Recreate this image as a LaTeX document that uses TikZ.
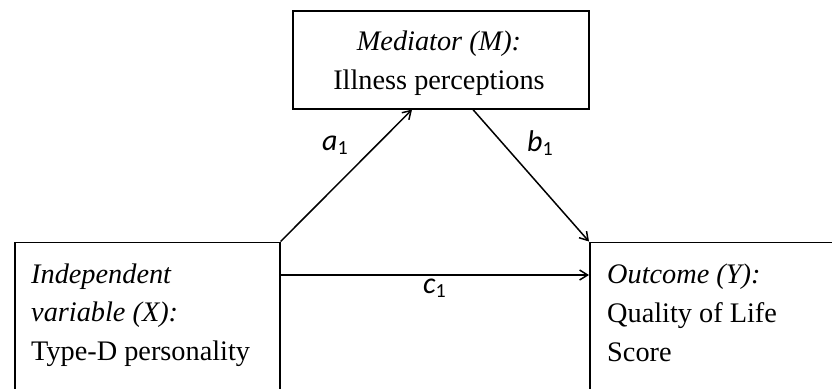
\documentclass[tikz,border=0pt]{standalone}
\usepackage{fontspec}
\setmainfont{Liberation Serif}
\newfontfamily\labfont{Carlito}
\usetikzlibrary{arrows.meta,calc}
\tikzset{
  box/.style={draw, line width=1.6bp, rectangle, inner sep=0pt, anchor=north west},
  txt/.style={inner sep=0pt, anchor=base west, font=\fontsize{28.3bp}{38bp}\selectfont},
  ctxt/.style={inner sep=0pt, anchor=base, font=\fontsize{28.3bp}{38bp}\selectfont},
  lab/.style={inner sep=0pt, anchor=base west, font=\labfont\itshape\fontsize{30bp}{30bp}\selectfont},
  arr/.style={line width=1.5bp, -{Straight Barb[length=8bp,width=10bp,line width=1.5bp]}}
}
\newcommand{\subone}{\raisebox{-4bp}{\upshape\fontsize{20bp}{20bp}\selectfont 1}}
\begin{document}
\begin{tikzpicture}[x=1bp,y=-1bp]
\useasboundingbox (0,0) rectangle (832,388);
\clip (0,0) rectangle (832,388);
\fill[white] (0,0) rectangle (832,388);
% boxes
\node[box, minimum width=296bp, minimum height=98bp] (M) at (292,10) {};
\node[box, minimum width=265bp, minimum height=160bp] (X) at (14,241.5) {};
\node[box, minimum width=270bp, minimum height=160bp] (Y) at (589,241.5) {};
% texts
\node[ctxt] (m1) at (439,50) {\itshape Mediator (M):};
\node[ctxt] (m2) at (439,89) {Illness perceptions};
\node[txt] (x1) at (31,283) {\itshape Independent};
\node[txt] (x2) at (31,321.5) {\itshape variable (X):};
\node[txt] (x3) at (31,360) {Type-D personality};
\node[txt] (y1) at (607,283) {\itshape Outcome (Y):};
\node[txt] (y2) at (607,322) {Quality of Life};
\node[txt] (y3) at (607,361) {Score};
% connectors
\draw[arr] (X.north east) -- ($(M.south west)+(120,0)$);
\draw[arr] ($(M.south west)+(181,0)$) -- (Y.north west);
\draw[arr] (X.east |- 0,275) -- (Y.west |- 0,275);
% labels
\node[lab] (la) at (322,150) {a\subone};
\node[lab] (lb) at (527,151) {b\subone};
\node[lab] (lc) at (423,293) {c\subone};
\end{tikzpicture}
\end{document}
